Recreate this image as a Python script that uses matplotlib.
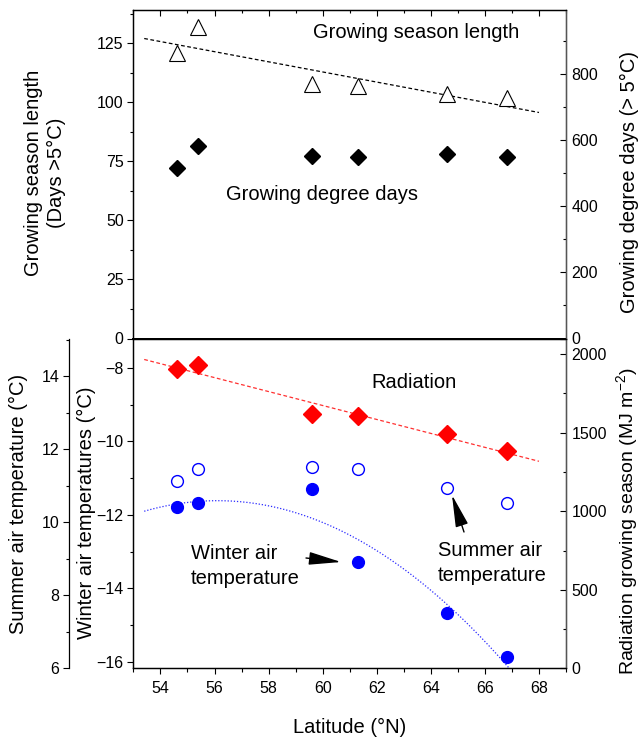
import numpy as np
import matplotlib
matplotlib.use('Agg')
import matplotlib.pyplot as plt
from matplotlib.ticker import MultipleLocator

plt.rcParams['font.family'] = ['Liberation Sans', 'DejaVu Sans']
plt.rcParams['mathtext.fontset'] = 'custom'
plt.rcParams['mathtext.rm'] = 'Liberation Sans'
plt.rcParams['mathtext.it'] = 'Liberation Sans:italic'

# site latitudes and values
latitude = [54.6, 55.4, 59.6, 61.3, 64.6, 66.8]
season_length = [120.9, 131.7, 107.6, 106.7, 103.3, 101.6]   # days > 5 C
degree_days = [515, 583, 553, 550, 558, 550]                 # GDD > 5 C
radiation = [1904, 1934, 1617, 1606, 1494, 1383]             # MJ m-2
summer_temp = [11.13, 11.45, 11.50, 11.45, 10.95, 10.53]     # C
winter_temp = [-11.80, -11.69, -11.30, -13.29, -14.68, -15.88]  # C

fit_range = (53.4, 68.0)

tick_fs = 11.5
lab_fs = 14.5

fig = plt.figure(figsize=(6.4, 7.38), dpi=100)
W, H = 640.0, 738.0
x0, x1 = 133.4, 566.0

def fx(px):
    return px / W

def fy(py):
    return 1 - py / H

ax_top = fig.add_axes([fx(x0), fy(338.5), fx(x1) - fx(x0), (338.5 - 10) / H])
ax_bot = fig.add_axes([fx(x0), fy(668.3), fx(x1) - fx(x0), (668.3 - 338.5) / H])

lat = np.array(latitude)
xs = np.linspace(fit_range[0], fit_range[1], 200)

# ---- top panel ----
ax_top.plot(latitude, season_length, '^', ms=11, mfc='white', mec='black', mew=0.8, zorder=3)
c = np.polyfit(lat, season_length, 1)
ax_top.plot(fit_range, np.polyval(c, fit_range), color='black', lw=0.9, ls=(0, (3, 2)))
ax_top.set_xlim(53, 69)
ax_top.set_ylim(0, 139)
ax_top.yaxis.set_major_locator(MultipleLocator(25))
ax_top.yaxis.set_minor_locator(MultipleLocator(12.5))
ax_top.xaxis.set_major_locator(MultipleLocator(2))
ax_top.xaxis.set_minor_locator(MultipleLocator(1))
ax_top.tick_params(axis='y', which='both', direction='out', labelsize=tick_fs, pad=3)
ax_top.tick_params(axis='x', which='both', direction='in', top=True, bottom=False,
                   labelbottom=False, labeltop=False)

ax_top_r = ax_top.twinx()
ax_top_r.plot(latitude, degree_days, 'D', ms=8.5, color='black', zorder=3)
ax_top_r.set_ylim(0, 994)
ax_top_r.yaxis.set_major_locator(MultipleLocator(200))
ax_top_r.yaxis.set_minor_locator(MultipleLocator(100))
ax_top_r.tick_params(axis='y', which='both', direction='in', labelsize=tick_fs, pad=4)

# ---- bottom panel ----
ax_bot.plot(latitude, winter_temp, 'o', ms=8.5, color='#0000ff', zorder=3)
q = np.polyfit(lat, winter_temp, 2)
ax_bot.plot(xs, np.polyval(q, xs), color='#2a2aff', lw=0.9, ls=(0, (1, 1.5)))
ax_bot.set_xlim(53, 69)
ax_bot.set_ylim(-16.18, -7.2)
ax_bot.yaxis.set_major_locator(MultipleLocator(2))
ax_bot.yaxis.set_minor_locator(MultipleLocator(1))
ax_bot.xaxis.set_major_locator(MultipleLocator(2))
ax_bot.xaxis.set_minor_locator(MultipleLocator(1))
ax_bot.tick_params(axis='y', which='both', direction='out', labelsize=tick_fs, pad=3)
ax_bot.tick_params(axis='x', which='both', direction='out', labelsize=tick_fs, pad=5)

ax_rad = ax_bot.twinx()
ax_rad.plot(latitude, radiation, 'D', ms=9, color='#ff0000', zorder=3)
r = np.polyfit(lat, radiation, 1)
ax_rad.plot(fit_range, np.polyval(r, fit_range), color='#ff3030', lw=0.9, ls=(0, (3, 2)))
ax_rad.set_ylim(0, 2100)
ax_rad.yaxis.set_major_locator(MultipleLocator(500))
ax_rad.yaxis.set_minor_locator(MultipleLocator(250))
ax_rad.tick_params(axis='y', which='both', direction='in', labelsize=tick_fs, pad=4)

ax_sum = ax_bot.twinx()
ax_sum.plot(latitude, summer_temp, 'o', ms=8.5, mfc='white', mec='#0000ff', mew=1.0, zorder=3)
ax_sum.set_ylim(6, 15.03)
ax_sum.spines['left'].set_position(('axes', -(x0 - 69.0) / (x1 - x0)))
ax_sum.spines['left'].set_visible(True)
ax_sum.spines['right'].set_visible(False)
ax_sum.spines['top'].set_visible(False)
ax_sum.spines['bottom'].set_visible(False)
ax_sum.yaxis.set_ticks_position('left')
ax_sum.yaxis.set_label_position('left')
ax_sum.yaxis.set_major_locator(MultipleLocator(2))
ax_sum.yaxis.set_minor_locator(MultipleLocator(1))
ax_sum.tick_params(axis='y', which='both', direction='out', labelsize=tick_fs, pad=3)

for a in [ax_top, ax_top_r, ax_bot, ax_rad, ax_sum]:
    a.tick_params(which='major', length=4, width=0.8)
    a.tick_params(which='minor', length=2.5, width=0.8)
    for s in a.spines.values():
        s.set_linewidth(0.9)
ax_bot.tick_params(axis='x', which='major', length=4.5)
ax_bot.tick_params(axis='x', which='minor', length=3)
ax_top_r.spines['right'].set_color('#555555')
ax_rad.spines['right'].set_color('#555555')
ax_top.spines['bottom'].set_linewidth(1.4)
ax_bot.spines['top'].set_linewidth(1.4)

# ---- text and labels ----
fig.text(fx(416), fy(33), 'Growing season length', fontsize=lab_fs, ha='center', va='center')
fig.text(fx(322), fy(195), 'Growing degree days', fontsize=lab_fs, ha='center', va='center')
fig.text(fx(414), fy(382), 'Radiation', fontsize=lab_fs, ha='center', va='center')
fig.text(fx(191), fy(566), 'Winter air\ntemperature', fontsize=lab_fs, ha='left', va='center',
         linespacing=1.35)
fig.text(fx(438), fy(563), 'Summer air\ntemperature', fontsize=lab_fs, ha='left', va='center',
         linespacing=1.35)

arrow = dict(arrowstyle='-|>,head_length=1.0,head_width=0.2', color='black', lw=1,
             shrinkA=0, shrinkB=0, mutation_scale=20)
ax_bot.annotate('', xy=(fx(341), fy(562)), xytext=(fx(306), fy(558)),
                xycoords='figure fraction', textcoords='figure fraction', arrowprops=arrow)
ax_bot.annotate('', xy=(fx(452), fy(495)), xytext=(fx(464), fy(532)),
                xycoords='figure fraction', textcoords='figure fraction', arrowprops=arrow)

fig.text(fx(45), fy(173), 'Growing season length\n(Days >5\u00b0C)', fontsize=lab_fs,
         rotation=90, ha='center', va='center', multialignment='center', linespacing=1.25)
fig.text(fx(629), fy(182), 'Growing degree days (> 5\u00b0C)', fontsize=lab_fs,
         rotation=90, ha='center', va='center')
fig.text(fx(18), fy(504), 'Summer air temperature (\u00b0C)', fontsize=lab_fs,
         rotation=90, ha='center', va='center')
fig.text(fx(86), fy(513), 'Winter air temperatures (\u00b0C)', fontsize=lab_fs,
         rotation=90, ha='center', va='center')
fig.text(fx(627), fy(521), 'Radiation growing season (MJ m$^{-2}$)', fontsize=14,
         rotation=90, ha='center', va='center')
fig.text(fx(350), fy(727), 'Latitude (\u00b0N)', fontsize=lab_fs, ha='center', va='center')

fig.savefig('out.png', dpi=100)
